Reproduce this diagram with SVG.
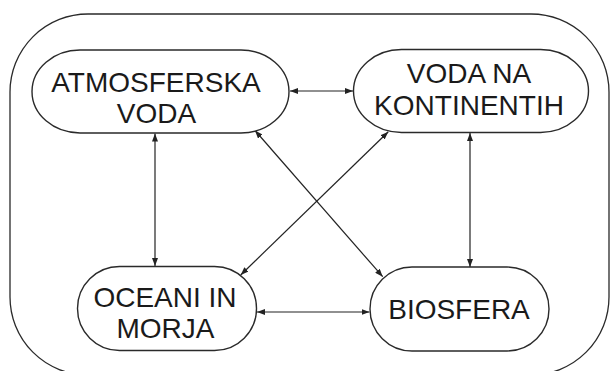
<svg xmlns="http://www.w3.org/2000/svg" width="611" height="371" viewBox="0 0 611 371">
<defs>
<style>
.frame{fill:none;stroke:#2a2a2a;stroke-width:1.3}
.pill{fill:#fff;stroke:#2a2a2a;stroke-width:1.4}
.lbl{font-family:"Liberation Sans",Arial,sans-serif;font-size:28px;fill:#1a1a1a;text-anchor:middle}
.conn line{stroke:#222;stroke-width:1.2;marker-start:url(#ah);marker-end:url(#ah)}
</style>
<marker id="ah" viewBox="0 0 8 6" refX="8" refY="3" markerWidth="8" markerHeight="6" markerUnits="userSpaceOnUse" orient="auto-start-reverse">
<path d="M0,0 L8,3 L0,6 z" fill="#222"/>
</marker>
</defs>
<rect width="611" height="371" fill="#fff"/>
<rect class="frame" x="10" y="14" width="599" height="361" rx="78" ry="78"/>
<g class="conn" id="connectors">
<line x1="290" y1="91" x2="353" y2="91"/>
<line x1="257" y1="312" x2="369.5" y2="312"/>
<line x1="155" y1="133.5" x2="155" y2="266"/>
<line x1="470" y1="133" x2="470" y2="267"/>
<line x1="255" y1="130.5" x2="382.7" y2="276.7"/>
<line x1="388.3" y1="131.7" x2="240.7" y2="275"/>
</g>
<g id="atmosferska">
<rect class="pill" x="32" y="50" width="257" height="83" rx="48" ry="41.5"/>
<text class="lbl" x="156" y="91.7">ATMOSFERSKA</text>
<text class="lbl" x="156.5" y="122.7">VODA</text>
</g>
<g id="kontinenti">
<rect class="pill" x="353.5" y="49.5" width="235" height="83" rx="48" ry="41.5"/>
<text class="lbl" x="469" y="82.7">VODA NA</text>
<text class="lbl" x="469" y="115">KONTINENTIH</text>
</g>
<g id="oceani">
<rect class="pill" x="77.5" y="266.5" width="179" height="84" rx="42" ry="42"/>
<text class="lbl" x="165" y="306.7">OCEANI IN</text>
<text class="lbl" x="165.5" y="338.3">MORJA</text>
</g>
<g id="biosfera">
<rect class="pill" x="370" y="267" width="179" height="84" rx="42" ry="42"/>
<text class="lbl" x="459" y="319.3">BIOSFERA</text>
</g>
</svg>
